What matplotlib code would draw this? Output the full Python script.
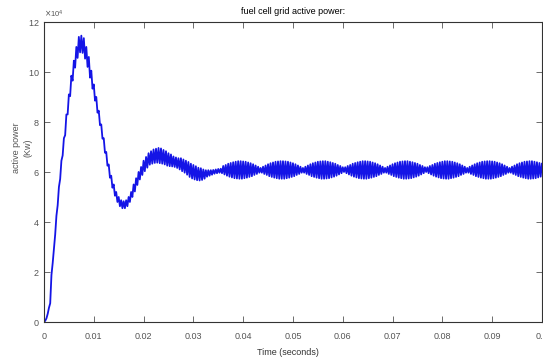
import numpy as np
import matplotlib
matplotlib.use("Agg")
import matplotlib.pyplot as plt

# === data (values in units of 1e4, one sample every 0.25 ms) ===
t_step = 0.00025
power_e4 = [
    0.00, 0.05, 0.15, 0.33, 0.57, 0.75, 1.88, 2.36, 2.95, 3.50,
    4.25, 4.67, 5.40, 5.72, 6.45, 6.66, 7.35, 7.47, 8.30, 8.30,
    9.10, 9.03, 9.85, 9.65, 10.45, 10.17, 11.00, 10.56, 11.40, 10.78,
    11.45, 10.76, 11.35, 10.53, 11.00, 10.20, 10.60, 9.77, 10.05, 9.33,
    9.50, 8.85, 9.00, 8.37, 8.45, 7.87, 7.90, 7.33, 7.35, 6.77,
    6.80, 6.25, 6.30, 5.77, 5.85, 5.37, 5.50, 5.05, 5.20, 4.80,
    5.00, 4.63, 4.87, 4.55, 4.83, 4.55, 4.87, 4.63, 5.00, 4.80,
    5.20, 5.00, 5.50, 5.22, 5.75, 5.48, 6.00, 5.70, 6.20, 5.88,
    6.45, 6.03, 6.60, 6.17, 6.75, 6.29, 6.83, 6.33, 6.90, 6.36,
    6.93, 6.37, 6.96, 6.35, 6.94, 6.33, 6.88, 6.30, 6.83, 6.25,
    6.75, 6.23, 6.70, 6.22, 6.62, 6.20, 6.58, 6.16, 6.55, 6.10,
    6.55, 6.03, 6.50, 5.97, 6.45, 5.89, 6.40, 5.80, 6.33, 5.74,
    6.28, 5.70, 6.23, 5.67, 6.17, 5.66, 6.15, 5.68, 6.10, 5.73,
    6.07, 5.81, 6.07, 5.85, 6.07, 5.89, 6.08, 5.93, 6.10, 5.95,
    6.12, 5.97, 6.13, 5.95, 6.24, 5.90, 6.28, 5.85, 6.33, 5.81,
    6.36, 5.78, 6.39, 5.75, 6.41, 5.74, 6.43, 5.73, 6.43, 5.73,
    6.42, 5.75, 6.41, 5.77, 6.38, 5.80, 6.35, 5.83, 6.31, 5.88,
    6.26, 5.92, 6.21, 5.97, 6.16, 5.97, 6.21, 5.92, 6.26, 5.88,
    6.31, 5.83, 6.35, 5.80, 6.38, 5.77, 6.41, 5.75, 6.42, 5.73,
    6.43, 5.73, 6.43, 5.73, 6.42, 5.75, 6.41, 5.77, 6.38, 5.80,
    6.35, 5.83, 6.31, 5.88, 6.26, 5.92, 6.21, 5.97, 6.16, 5.97,
    6.21, 5.92, 6.26, 5.88, 6.31, 5.83, 6.35, 5.80, 6.38, 5.77,
    6.41, 5.75, 6.42, 5.73, 6.43, 5.73, 6.43, 5.74, 6.41, 5.75,
    6.39, 5.78, 6.36, 5.81, 6.33, 5.85, 6.28, 5.90, 6.24, 5.95,
    6.19, 6.00, 6.19, 5.95, 6.24, 5.90, 6.28, 5.85, 6.33, 5.81,
    6.36, 5.78, 6.39, 5.75, 6.41, 5.74, 6.43, 5.73, 6.43, 5.73,
    6.42, 5.75, 6.41, 5.77, 6.38, 5.80, 6.35, 5.83, 6.31, 5.88,
    6.26, 5.92, 6.21, 5.97, 6.16, 5.97, 6.21, 5.92, 6.26, 5.88,
    6.31, 5.83, 6.35, 5.80, 6.38, 5.77, 6.41, 5.75, 6.42, 5.73,
    6.43, 5.73, 6.43, 5.74, 6.41, 5.75, 6.39, 5.78, 6.36, 5.81,
    6.33, 5.85, 6.28, 5.90, 6.24, 5.95, 6.19, 6.00, 6.19, 5.95,
    6.24, 5.90, 6.28, 5.85, 6.33, 5.81, 6.36, 5.78, 6.39, 5.75,
    6.41, 5.74, 6.43, 5.73, 6.43, 5.73, 6.42, 5.75, 6.41, 5.77,
    6.38, 5.80, 6.35, 5.83, 6.31, 5.88, 6.26, 5.92, 6.21, 5.97,
    6.16, 5.97, 6.21, 5.92, 6.26, 5.88, 6.31, 5.83, 6.35, 5.80,
    6.38, 5.77, 6.41, 5.75, 6.42, 5.73, 6.43, 5.73, 6.43, 5.73,
    6.42, 5.75, 6.41, 5.77, 6.38, 5.80, 6.35, 5.83, 6.31, 5.88,
    6.26, 5.92, 6.21, 5.97, 6.16, 5.97, 6.21, 5.92, 6.26, 5.88,
    6.31, 5.83, 6.35, 5.80, 6.38, 5.77, 6.41, 5.75, 6.42, 5.73,
    6.43, 5.73, 6.43, 5.74, 6.41, 5.75, 6.39, 5.78, 6.36, 5.81,
    6.33,
]
time_s = np.arange(len(power_e4)) * t_step
power = np.array(power_e4) * 1e4

x_ticks = [0, 0.01, 0.02, 0.03, 0.04, 0.05, 0.06, 0.07, 0.08, 0.09, 0.1]
x_labels = ["0", "0.01", "0.02", "0.03", "0.04", "0.05", "0.06", "0.07", "0.08", "0.09", "0.1"]
y_ticks = [0, 2e4, 4e4, 6e4, 8e4, 10e4, 12e4]

plt.rcParams["font.family"] = ["Liberation Sans", "DejaVu Sans"]

fig = plt.figure(figsize=(5.43, 3.59), dpi=100)
ax = fig.add_axes([0.081, 0.103, 0.917, 0.836])

ax.plot(time_s, power, color="#1414e6", linewidth=1.3)

ax.set_xlim(0, 0.1)
ax.set_ylim(0, 12e4)
ax.set_xticks(x_ticks)
ax.set_xticklabels(x_labels)
ax.set_yticks(y_ticks)
ax.ticklabel_format(axis="y", style="sci", scilimits=(4, 4), useMathText=True)
ax.yaxis.get_offset_text().set_fontsize(5.5)
ax.yaxis.get_offset_text().set_color("#555555")

ax.tick_params(direction="in", top=True, right=True, length=4, width=0.6,
               labelsize=6.5, labelcolor="#555555", color="#555555")
ax.tick_params(axis="x", pad=7)
ax.tick_params(axis="y", pad=3)
for s in ax.spines.values():
    s.set_linewidth(0.8)
    s.set_color("#333333")

ax.set_title("fuel cell grid active power:", fontsize=6.5, pad=6)
ax.set_xlabel("Time (seconds)", fontsize=6.5, color="#333333")
ax.xaxis.set_label_coords(0.49, -0.085)
ax.set_ylabel("active power\n(Kw)", fontsize=6.5, color="#555555", linespacing=1.3)
ax.yaxis.set_label_coords(-0.024, 0.58)

fig.savefig("out.png", dpi=100)
